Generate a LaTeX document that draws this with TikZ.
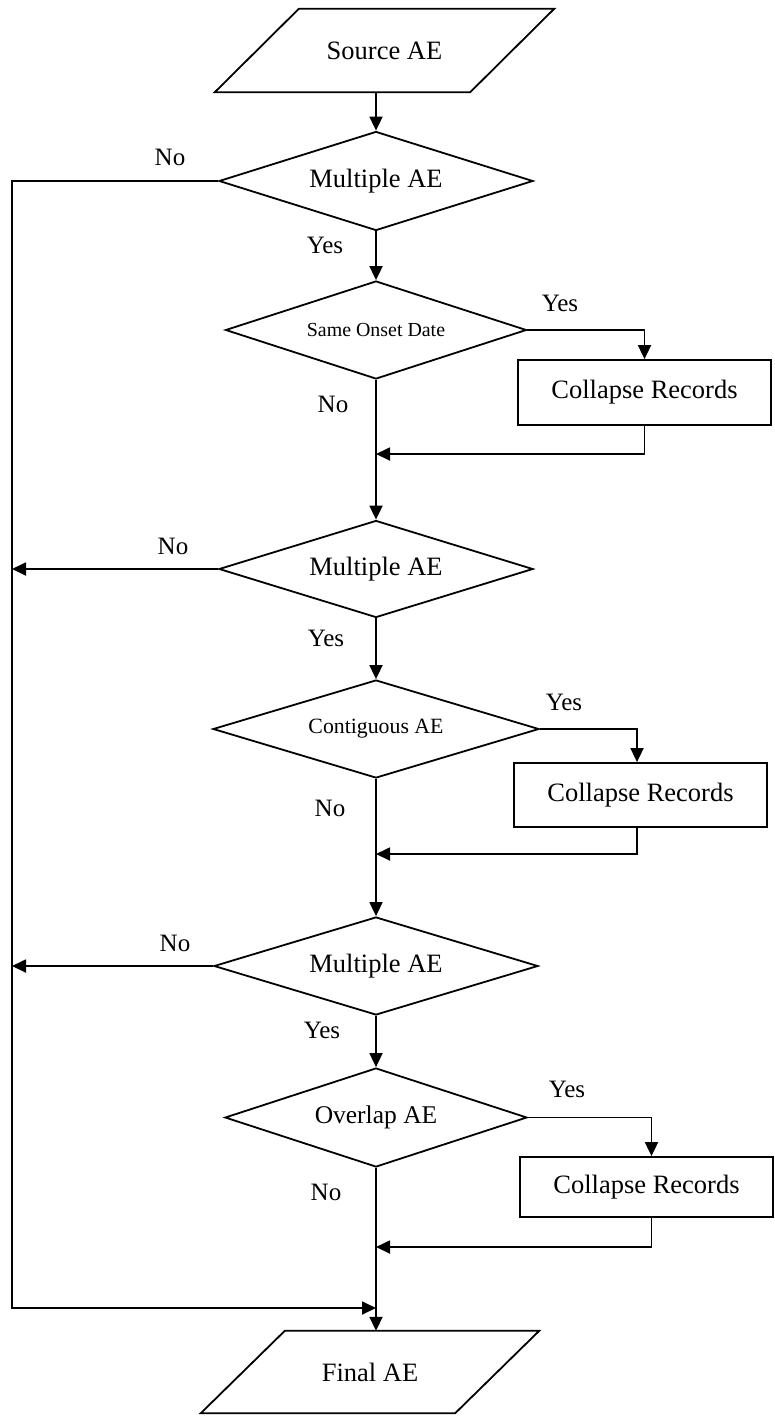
\documentclass[tikz,border=0pt]{standalone}
\usepackage{fontspec}
\setmainfont{Liberation Serif}
\usetikzlibrary{shapes.geometric,arrows.meta}
\begin{document}
\begin{tikzpicture}[x=1pt,y=-1pt,
  line/.style={line width=1.8pt,line join=miter},
  arr/.style={line,-{Triangle[length=14pt,width=13pt]}},
  dia/.style={shape=diamond,draw,line width=1.8pt,inner sep=0pt,aspect=3.2,font=\fontsize{26.5}{30}\selectfont},
  procbox/.style={shape=rectangle,draw,line width=1.8pt,minimum width=253pt,inner sep=0pt,font=\fontsize{26.5}{30}\selectfont},
  io/.style={inner sep=0pt,minimum width=255pt,minimum height=83pt,font=\fontsize{26.5}{30}\selectfont},
  lbl/.style={inner sep=0pt,font=\fontsize{25}{28}\selectfont}]
\useasboundingbox (0,0) rectangle (775,1416);

% input / output
\node[io] (src) at (384.5,50.5) {Source AE};
\draw[line] ([xshift=-42pt]src.south west) -- ([xshift=-42pt]src.south east)
  -- ([xshift=42pt]src.north east) -- ([xshift=42pt]src.north west) -- cycle;
\node[io,minimum width=254pt,minimum height=82pt] (fin) at (370,1372) {Final AE};
\draw[line] ([xshift=-42pt]fin.south west) -- ([xshift=-42pt]fin.south east)
  -- ([xshift=42pt]fin.north east) -- ([xshift=42pt]fin.north west) -- cycle;

% decisions
\node[dia,minimum width=314pt,minimum height=99pt] (d1) at (376,181) {Multiple AE};
\node[dia,minimum width=301pt,minimum height=98pt,font=\fontsize{19.9}{23}\selectfont] (d2) at (376,330) {Same Onset Date};
\node[dia,minimum width=314pt,minimum height=97pt] (d3) at (376,569) {Multiple AE};
\node[dia,minimum width=326pt,minimum height=98pt,font=\fontsize{21.8}{25}\selectfont] (d4) at (376,729) {\raisebox{6pt}{Contiguous AE}};
\node[dia,minimum width=324pt,minimum height=98pt] (d5) at (376,966) {Multiple AE};
\node[dia,minimum width=302pt,minimum height=99pt,font=\fontsize{25.5}{29}\selectfont] (d6) at (376,1117.5) {\raisebox{2pt}{Overlap AE}};

% process boxes
\node[procbox,minimum height=65pt] (b1) at (644.5,392.5) {Collapse Records};
\node[procbox,minimum height=64pt] (b2) at (640.5,795) {Collapse Records};
\node[procbox,minimum height=60pt] (b3) at (646.5,1187) {Collapse Records};

% junction coordinates
\coordinate (j1) at (376,454);
\coordinate (j2) at (376,854);
\coordinate (j3) at (376,1247);
\coordinate (j4) at (376,1308);
\coordinate (bus1) at (12,181);
\coordinate (bus3) at (12,569);
\coordinate (bus5) at (12,966);

% main spine
\draw[arr] (src.south -| d1.north) -- (d1.north);
\draw[arr] (d1.south) -- (d2.north);
\draw[arr] (d2.south) -- (d3.north);
\draw[arr] (d3.south) -- (d4.north);
\draw[arr] (d4.south) -- (d5.north);
\draw[arr] (d5.south) -- (d6.north);
\draw[arr] (d6.south) -- (d6.south |- fin.north);

% yes branches
\draw[arr] (d2.east) -| (b1.north);
\draw[arr] (b1.south) |- (j1);
\draw[arr] (d4.east) -| ([xshift=-3.5pt]b2.north);
\draw[arr] ([xshift=-3.5pt]b2.south) |- (j2);
\draw[arr] (d6.east) -| ([xshift=5pt]b3.north);
\draw[arr] ([xshift=5pt]b3.south) |- (j3);

% no branches
\draw[arr] (d1.west) -- (bus1) |- (j4);
\draw[arr] (d3.west) -- (bus3);
\draw[arr] (d5.west) -- (bus5);

% labels
\node[lbl] (n1) at (170,157) {No};
\node[lbl] (y1) at (325,245) {Yes};
\node[lbl] (y2) at (560,303) {Yes};
\node[lbl] (n2) at (333,404) {No};
\node[lbl] (n3) at (173,546) {No};
\node[lbl] (y3) at (326,638) {Yes};
\node[lbl] (y4) at (564,702) {Yes};
\node[lbl] (n4) at (330,808) {No};
\node[lbl] (n5) at (175,943) {No};
\node[lbl] (y5) at (322,1030) {Yes};
\node[lbl] (y6) at (567,1089) {Yes};
\node[lbl] (n6) at (326,1192) {No};
\end{tikzpicture}
\end{document}
